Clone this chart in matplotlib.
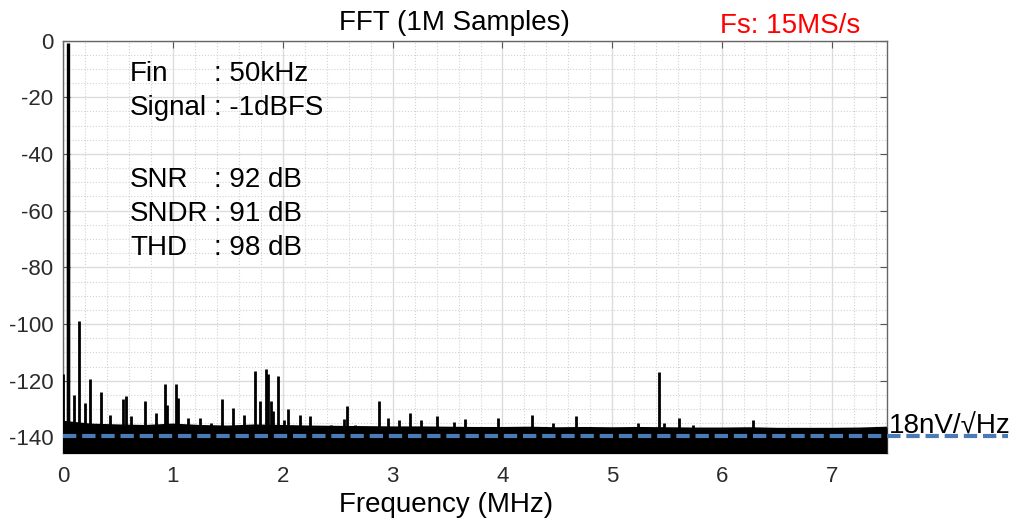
import matplotlib.pyplot as plt
from matplotlib.ticker import MultipleLocator

plt.rcParams['font.family'] = ['Liberation Sans', 'DejaVu Sans']
plt.rcParams['axes.unicode_minus'] = False

# fundamental, leakage bin and spurs (MHz, dBFS)
spur_mhz = [0.05, 0.044, 0.0, 0.10, 0.15, 0.20, 0.25, 0.35, 0.43, 0.545, 0.57,
            0.615, 0.75, 0.85, 0.93, 0.95, 1.025, 1.05, 1.14, 1.245, 1.35, 1.45,
            1.55, 1.65, 1.75, 1.79, 1.85, 1.87, 1.89, 1.91, 1.96, 2.01, 2.05,
            2.155, 2.25, 2.44, 2.56, 2.585, 2.66, 2.88, 2.96, 3.06, 3.16, 3.26,
            3.40, 3.56, 3.66, 3.96, 4.27, 4.46, 4.67, 5.23, 5.42, 5.47, 5.61,
            5.73, 6.28]
spur_db = [-1, -42, -117.5, -125, -99, -128, -119.5, -124, -132, -126.5, -125.5,
           -132.5, -127, -131.5, -121, -128.5, -121, -126, -133, -133, -135, -126.5,
           -129.5, -132, -116.5, -127, -115.8, -117.5, -127, -130.5, -118.5, -134, -130,
           -132, -132.5, -135.5, -133.5, -129, -135.5, -127, -133, -134, -131.5, -134,
           -132.5, -134.5, -133.5, -133, -132, -135, -132.5, -135, -117, -135, -133,
           -135.5, -134]

# top edge of the noise floor, read every 0.25 MHz
floor_mhz = [0.0, 0.25, 0.5, 0.75, 1.0, 1.25, 1.5, 1.75, 2.0, 2.25, 2.5, 2.75,
             3.0, 3.25, 3.5, 3.75, 4.0, 4.25, 4.5, 4.75, 5.0, 5.25, 5.5, 5.75,
             6.0, 6.25, 6.5, 6.75, 7.0, 7.25, 7.5]
floor_db = [-134.5, -135.5, -135.8, -136.0, -135.5, -136.0, -136.2, -135.8, -136.0,
            -136.2, -136.3, -136.4, -136.5, -136.5, -136.6, -136.7, -136.7, -136.6,
            -136.8, -136.7, -136.8, -136.7, -136.8, -136.9, -136.9, -136.8, -137.0,
            -137.0, -137.0, -136.9, -136.6]

noise_line_db = -139.4
ylo = -145.5

fig = plt.figure(figsize=(10.21, 5.23), dpi=100)
ax = fig.add_axes([0.0617, 0.1338, 0.8071, 0.7886])

ax.fill_between(floor_mhz, ylo - 1, floor_db, color='black', lw=0, zorder=3)
ax.plot(floor_mhz, floor_db, color='black', lw=1.6, zorder=3)
ax.vlines(spur_mhz[2:], ylo - 1, spur_db[2:], color='black', lw=2.0, zorder=3)
ax.vlines(spur_mhz[:2], ylo - 1, spur_db[:2], color='black', lw=2.4, zorder=3)

# 18nV/rtHz noise level, runs past the right edge
ax.plot([0, 8.6], [noise_line_db, noise_line_db], color='#4a7bb7', lw=3.0,
        dashes=(3.2, 1.4), clip_on=False, zorder=4)
ax.text(7.52, noise_line_db + 0.9, '18nV/√Hz', fontsize=20, ha='left',
        va='baseline', clip_on=False)

ax.set_xlim(0, 7.5)
ax.set_ylim(ylo, 0)
ax.xaxis.set_major_locator(MultipleLocator(1))
ax.xaxis.set_minor_locator(MultipleLocator(0.2))
ax.yaxis.set_major_locator(MultipleLocator(20))
ax.yaxis.set_minor_locator(MultipleLocator(5))
ax.grid(which='major', color='#dcdcdc', lw=1.0, ls='-')
ax.grid(which='minor', color='#d2d2d2', lw=0.8, ls=':')
ax.set_axisbelow(True)
ax.tick_params(which='major', direction='in', length=5, top=True, right=True,
               labelsize=16, labelcolor='#2b2b2b', color='#555555', pad=9)
ax.tick_params(which='minor', length=0)
ax.tick_params(axis='y', pad=7)
for s in ax.spines.values():
    s.set_color('#666666')
    s.set_linewidth(1.0)

W, H = 1021, 523
fig.text(454 / W, 1 - 30 / H, 'FFT (1M Samples)', fontsize=20, ha='center', va='baseline')
fig.text(720 / W, 1 - 33 / H, 'Fs: 15MS/s', fontsize=20, ha='left', va='baseline', color='red')
fig.text(446 / W, 1 - 512 / H, 'Frequency (MHz)', fontsize=20, ha='center', va='baseline')

labels = ['Fin', 'Signal', 'SNR', 'SNDR', 'THD']
values = [': 50kHz', ': -1dBFS', ': 92 dB', ': 91 dB', ': 98 dB']
baselines = [81, 115, 187, 221, 255]
for lab, val, yb in zip(labels, values, baselines):
    fig.text(130 / W, 1 - yb / H, lab, fontsize=20, va='baseline')
    fig.text(214 / W, 1 - yb / H, val, fontsize=20, va='baseline')

fig.savefig('out.png', dpi=100)
